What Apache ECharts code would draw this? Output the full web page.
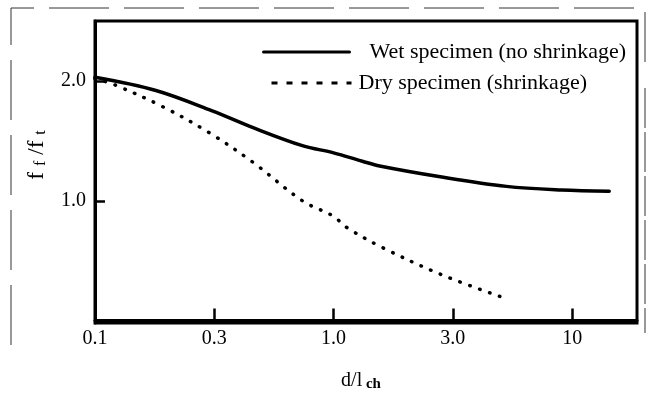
<!DOCTYPE html>
<html><head><meta charset="utf-8">
<script src="https://cdn.jsdelivr.net/npm/echarts@6/dist/echarts.min.js"></script>
<style>html,body{margin:0;padding:0;background:#fff}#c{width:648px;height:397px}</style>
</head><body><div id="c"></div>
<script>
// ---- data ----
const xTickValues = [0.1, 0.316, 1, 3.16, 10];
const xTickLabels = ['0.1', '0.3', '1.0', '3.0', '10'];
const yTickValues = [1, 2];
const yTickLabels = ['1.0', '2.0'];
const seriesNames = ['Wet specimen (no shrinkage)', 'Dry specimen (shrinkage)'];
const wetX = [0.1, 0.18, 0.31, 0.46, 0.74, 1.0, 1.32, 1.56, 2.8, 5.3, 9.0, 14.3];
const wetY = [2.03, 1.92, 1.75, 1.61, 1.46, 1.40, 1.33, 1.29, 1.20, 1.12, 1.09, 1.08];
const dryX = [0.1, 0.12, 0.19, 0.30, 0.46, 0.74, 1.0, 1.13, 1.6, 2.86, 5.35];
const dryY = [2.02, 1.97, 1.79, 1.57, 1.32, 1.00, 0.87, 0.78, 0.61, 0.38, 0.18];

const FONT = '"Liberation Serif", "Times New Roman", serif';
const pairs = (xs, ys) => xs.map((x, i) => [x, ys[i]]);

const chart = echarts.init(document.getElementById('c'), null, {renderer: 'canvas'});
chart.setOption({
  animation: false,
  backgroundColor: '#fff',
  grid: {left: 95, right: 11, top: 21, bottom: 74, show: true, borderColor: '#000', borderWidth: 3, backgroundColor: 'transparent'},
  legend: [
    {
      data: [{name: seriesNames[0], itemStyle: {opacity: 0}, lineStyle: {width: 3}}],
      left: 262, top: 41, padding: 0, itemWidth: 86, itemHeight: 14, itemGap: 0,
      textStyle: {fontFamily: FONT, fontSize: 22, color: '#000', padding: [0, 0, 0, 15]},
      selectedMode: false
    },
    {
      data: [{name: seriesNames[1], itemStyle: {opacity: 0}, lineStyle: {type: [6, 9], width: 3, cap: 'butt'}}],
      left: 270, top: 72, padding: 0, itemWidth: 80, itemHeight: 14, itemGap: 0,
      textStyle: {fontFamily: FONT, fontSize: 22, color: '#000', padding: [0, 0, 0, 2]},
      selectedMode: false
    }
  ],
  xAxis: {
    type: 'log', logBase: 10, min: 0.1, max: 18.7,
    name: '{m|d/l}{s| ch}', nameLocation: 'middle', nameGap: 46,
    nameTextStyle: {padding: [0, 10, 0, 0], rich: {
      m: {fontFamily: FONT, fontSize: 20, color: '#000'},
      s: {fontFamily: FONT, fontSize: 15, fontWeight: 'bold', color: '#000', verticalAlign: 'bottom', padding: [8, 0, 0, 0]}
    }},
    axisLine: {show: true, lineStyle: {color: '#000', width: 3}},
    axisTick: {show: true, inside: true, length: 12, lineStyle: {color: '#000', width: 2.5}, customValues: xTickValues},
    axisLabel: {customValues: xTickValues, margin: 6, fontFamily: FONT, fontSize: 20, color: '#000',
      formatter: v => { const i = xTickValues.findIndex(t => Math.abs(t - v) / t < 1e-3); return i >= 0 ? xTickLabels[i] : ''; }},
    splitLine: {show: false}, minorTick: {show: false}
  },
  yAxis: {
    type: 'value', min: -0.02, max: 2.5,
    name: '{m|f}{s|f}{m|/f}{s|t}', nameLocation: 'middle', nameRotate: 90, nameGap: 46,
    nameTextStyle: {padding: [0, 0, 0, 36], rich: {
      m: {fontFamily: FONT, fontSize: 23, color: '#000', padding: [0, 2, 0, 2]},
      s: {fontFamily: FONT, fontSize: 16, color: '#000', padding: [9, 4, 0, 4]}
    }},
    axisLine: {show: true, lineStyle: {color: '#000', width: 3}},
    axisTick: {show: true, inside: true, length: 10, lineStyle: {color: '#000', width: 2.5}, customValues: yTickValues},
    axisLabel: {customValues: yTickValues, margin: 9, fontFamily: FONT, fontSize: 20, color: '#000',
      formatter: v => { const i = yTickValues.indexOf(v); return i >= 0 ? yTickLabels[i] : ''; }},
    splitLine: {show: false}
  },
  series: [
    {
      name: seriesNames[0], type: 'line', data: pairs(wetX, wetY), smooth: 0.35,
      symbol: 'none', lineStyle: {color: '#000', width: 3.5, cap: 'round'}, itemStyle: {color: '#000'}
    },
    {
      name: seriesNames[1], type: 'line', data: pairs(dryX, dryY), smooth: 0.35,
      symbol: 'none', lineStyle: {color: '#000', width: 3.5, type: [0.5, 10], cap: 'round'}, itemStyle: {color: '#000'}
    }
  ],
  graphic: [
    {type: 'polyline', shape: {points: [[11, 345], [11, 8], [645, 8], [645, 62]]}, style: {stroke: '#333', lineWidth: 1, lineDash: [60, 15], fill: null}, silent: true},
    {type: 'line', shape: {x1: 645, y1: 88, x2: 645, y2: 333}, style: {stroke: '#333', lineWidth: 1, lineDash: [40, 4]}, silent: true}
  ]
});
</script></body></html>
